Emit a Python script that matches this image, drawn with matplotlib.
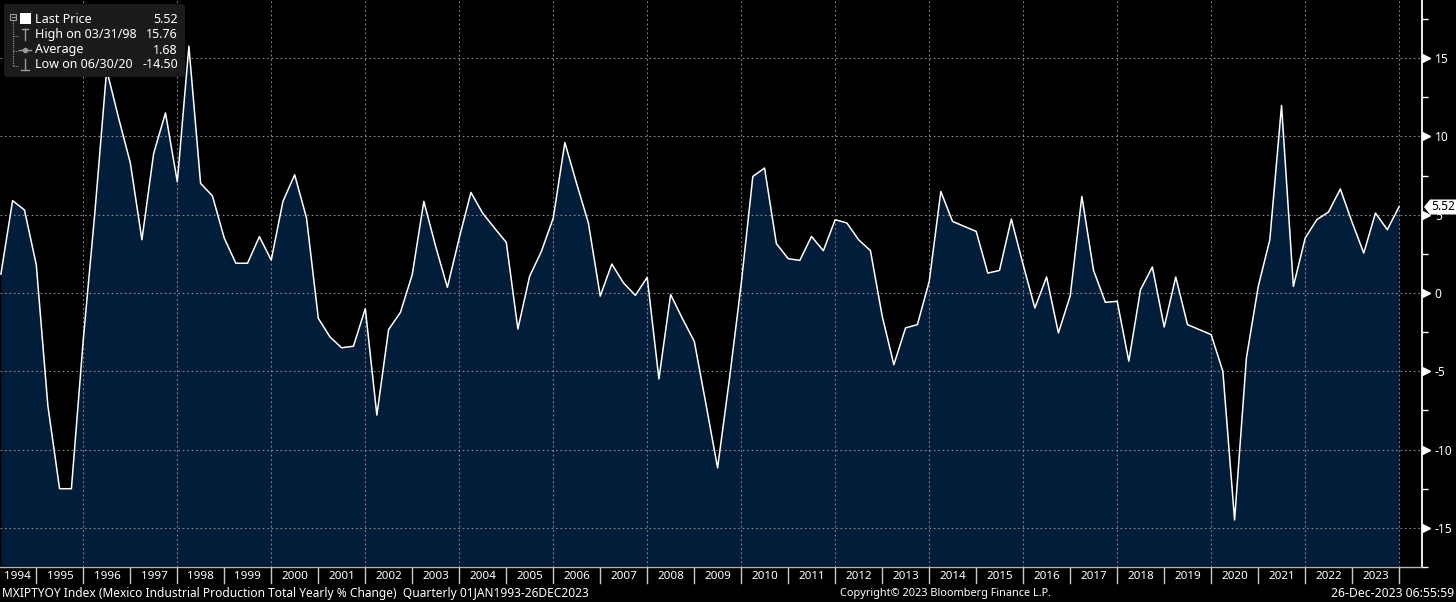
import matplotlib
matplotlib.use('Agg')
import matplotlib.pyplot as plt
import matplotlib.dates as mdates
from matplotlib.transforms import Affine2D
from matplotlib.patches import FancyBboxPatch, Polygon, Rectangle
from matplotlib.lines import Line2D
import pandas as pd
import numpy as np
from datetime import datetime

plt.rcParams['font.family'] = ['Noto Sans', 'DejaVu Sans']
plt.rcParams['axes.unicode_minus'] = False

# ---------------- data ----------------
first_quarter_end = '1994-03-31'
yoy_values = [
    1.2, 5.9, 5.3, 1.8,        # 1994
    -7.2, -12.5, -12.5, -3.0,  # 1995
    5.2, 14.25, 11.2, 8.3,     # 1996
    3.4, 8.9, 11.5, 7.1,       # 1997
    15.76, 7.0, 6.2, 3.5,      # 1998
    1.9, 1.9, 3.6, 2.1,        # 1999
    5.85, 7.55, 4.8, -1.62,    # 2000
    -2.8, -3.5, -3.4, -1.0,    # 2001
    -7.8, -2.34, -1.24, 1.17,  # 2002
    5.85, 3.0, 0.36, 3.5,      # 2003
    6.42, 5.1, 4.15, 3.23,     # 2004
    -2.3, 1.06, 2.66, 4.79,    # 2005
    9.61, 7.0, 4.47, -0.2,     # 2006
    1.85, 0.64, -0.15, 1.0,    # 2007
    -5.49, -0.1, -1.64, -3.09, # 2008
    -7.07, -11.17, -5.5, 0.6,  # 2009
    7.44, 7.98, 3.15, 2.19,    # 2010
    2.08, 3.61, 2.70, 4.68,    # 2011
    4.47, 3.40, 2.70, -1.5,    # 2012
    -4.58, -2.23, -2.02, 0.74, # 2013
    6.48, 4.57, 4.25, 3.93,    # 2014
    1.27, 1.44, 4.72, 1.8,     # 2015
    -0.96, 1.02, -2.55, -0.17, # 2016
    6.17, 1.44, -0.6, -0.53,   # 2017
    -4.36, 0.21, 1.66, -2.17,  # 2018
    1.02, -2.02, -2.34, -2.66, # 2019
    -5.0, -14.50, -4.15, 0.42, # 2020
    3.40, 11.97, 0.42, 3.51,   # 2021
    4.68, 5.17, 6.64, 4.5,     # 2022
    2.55, 5.1, 4.04, 5.52,     # 2023
]
year_labels = list(range(1994, 2024))
y_ticks = [-15, -10, -5, 0, 5, 10, 15]
legend_names = ['Last Price', 'High on 03/31/98', 'Average', 'Low on 06/30/20']
legend_values = ['5.52', '15.76', '1.68', '-14.50']
last_price = 5.52
footer_left = 'MXIPTYOY Index (Mexico Industrial Production Total Yearly % Change)  Quarterly 01JAN1993-26DEC2023'
footer_mid = 'Copyright\u00a9 2023 Bloomberg Finance L.P.'
footer_right = '26-Dec-2023 06:55:59'

# ---------------- figure ----------------
W, H = 1456, 602
fig = plt.figure(figsize=(W / 100, H / 100), dpi=100, facecolor='black')
px = Affine2D().scale(1.0 / W, -1.0 / H).translate(0, 1) + fig.transFigure

ax_right_px = 1422.3
ax_bottom_px = 567.0
ax = fig.add_axes([0, 1 - ax_bottom_px / H, ax_right_px / W, ax_bottom_px / H])
ax.set_facecolor('black')

dates = pd.date_range(first_quarter_end, periods=len(yoy_values), freq='QE')
x = mdates.date2num(dates.to_pydatetime())
y_lo, y_hi = -17.4, 18.71
x_lo = mdates.date2num(datetime(1994, 3, 24))
x_hi = mdates.date2num(datetime(2024, 6, 28))

ax.fill_between(x, yoy_values, y_lo, color='#021d3a', linewidth=0, zorder=1)
ax.plot(x, yoy_values, color='white', linewidth=1.1, zorder=3)

ax.set_xlim(x_lo, x_hi)
ax.set_ylim(y_lo, y_hi)

# grid
grid_years = [mdates.date2num(datetime(yr, 1, 1)) for yr in range(1996, 2025, 2)]
ax.set_xticks(grid_years)
ax.tick_params(axis='x', length=0, labelbottom=False)
ax.yaxis.tick_right()
ax.set_yticks(y_ticks)
ax.set_yticklabels([str(t) for t in y_ticks])
ax.set_yticks(np.arange(-17.5, 18.0, 5.0), minor=True)
ax.tick_params(axis='y', which='major', length=0, pad=9, labelsize=8.6, labelcolor='white')
ax.tick_params(axis='y', which='minor', length=4, width=1, color='white', direction='out')
ax.set_axisbelow(False)
ax.grid(True, which='major', color='#8a8a8a', linestyle=(0, (1.5, 2.5)), linewidth=0.8, zorder=2)

for s in ['left', 'top']:
    ax.spines[s].set_visible(False)
ax.spines['right'].set_color('white')
ax.spines['right'].set_linewidth(1.3)
ax.spines['bottom'].set_color('#b5b5b5')
ax.spines['bottom'].set_linewidth(1.0)

# tick triangles on right axis
ax.plot([1.0025] * len(y_ticks), y_ticks, linestyle='none', marker='>', markersize=5.5,
        color='white', transform=ax.get_yaxis_transform(), clip_on=False, zorder=5)

# year labels and separators
xt = ax.get_xaxis_transform()
for yr in year_labels:
    lo = max(mdates.date2num(datetime(yr, 1, 1)), x_lo)
    hi = mdates.date2num(datetime(yr + 1, 1, 1))
    ax.text((lo + hi) / 2 - (3 if yr == 1994 else 0), -0.016, str(yr), transform=xt, ha='center', va='center',
            color='white', fontsize=8.4, clip_on=False)
for yr in range(1995, 2025):
    xs = mdates.date2num(datetime(yr, 1, 1))
    ax.plot([xs, xs], [-0.002, -0.029], transform=xt, color='#c8c8c8', linewidth=1.0, clip_on=False)

# footer
fy = 593.5
fig.text(2, fy, footer_left, transform=px, color='white', fontsize=8.6, ha='left', va='center')
fig.text(946, fy, footer_mid, transform=px, color='white', fontsize=7.9, ha='center', va='center')
fig.text(1454, fy, footer_right, transform=px, color='white', fontsize=8.8, ha='right', va='center')

# last price tag
tag_y = 207.0
tag = Polygon([(1424, tag_y), (1430, tag_y - 7.5), (1456, tag_y - 7.5), (1456, tag_y + 7.5), (1430, tag_y + 7.5)],
              closed=True, transform=px, facecolor='white', edgecolor='none', zorder=10)
fig.add_artist(tag)
fig.text(1431, tag_y, f'{last_price:.2f}', transform=px, color='black', fontsize=8.6,
         ha='left', va='center', zorder=11)

# legend box
box = FancyBboxPatch((4, 4), 181, 73, boxstyle='round,pad=0,rounding_size=3', transform=px,
                     facecolor='#1b1b1b', edgecolor='none', zorder=10)
fig.add_artist(box)
rows = [19.3, 34.7, 50.0, 65.0]
for name, val, ry in zip(legend_names, legend_values, rows):
    fig.text(35, ry, name, transform=px, color='white', fontsize=9.0, ha='left', va='center', zorder=12)
    fig.text(178, ry, val, transform=px, color='white', fontsize=9.0, ha='right', va='center', zorder=12)

icon = '#9a9a9a'
# tree lines
fig.add_artist(Line2D([13, 13], [20, 66], transform=px, color=icon, linewidth=0.8, linestyle=(0, (1, 1)), zorder=11))
for ry in rows[1:]:
    fig.add_artist(Line2D([13, 18], [ry + 1, ry + 1], transform=px, color=icon, linewidth=0.8,
                          linestyle=(0, (1, 1)), zorder=11))
# collapse box
fig.add_artist(Rectangle((10, 14), 6, 6, transform=px, facecolor='#1b1b1b', edgecolor=icon, linewidth=0.8, zorder=12))
fig.add_artist(Line2D([11.5, 14.5], [17, 17], transform=px, color=icon, linewidth=0.8, zorder=13))
# last price white square
fig.add_artist(Rectangle((20, 13), 11, 11, transform=px, facecolor='white', edgecolor='none', zorder=12))
# high icon
fig.add_artist(Line2D([22, 28], [29, 29], transform=px, color=icon, linewidth=1.0, zorder=12))
fig.add_artist(Line2D([25, 25], [29, 40], transform=px, color=icon, linewidth=1.0, zorder=12))
# average icon
fig.add_artist(Line2D([19, 31], [50, 50], transform=px, color=icon, linewidth=1.0, zorder=12))
fig.add_artist(Line2D([25], [50], transform=px, color=icon, marker='o', markersize=3, linestyle='none', zorder=12))
# low icon
fig.add_artist(Line2D([25, 25], [59, 70], transform=px, color=icon, linewidth=1.0, zorder=12))
fig.add_artist(Line2D([21, 29], [70, 70], transform=px, color=icon, linewidth=1.0, zorder=12))

fig.savefig('out.png', dpi=100, facecolor='black')
